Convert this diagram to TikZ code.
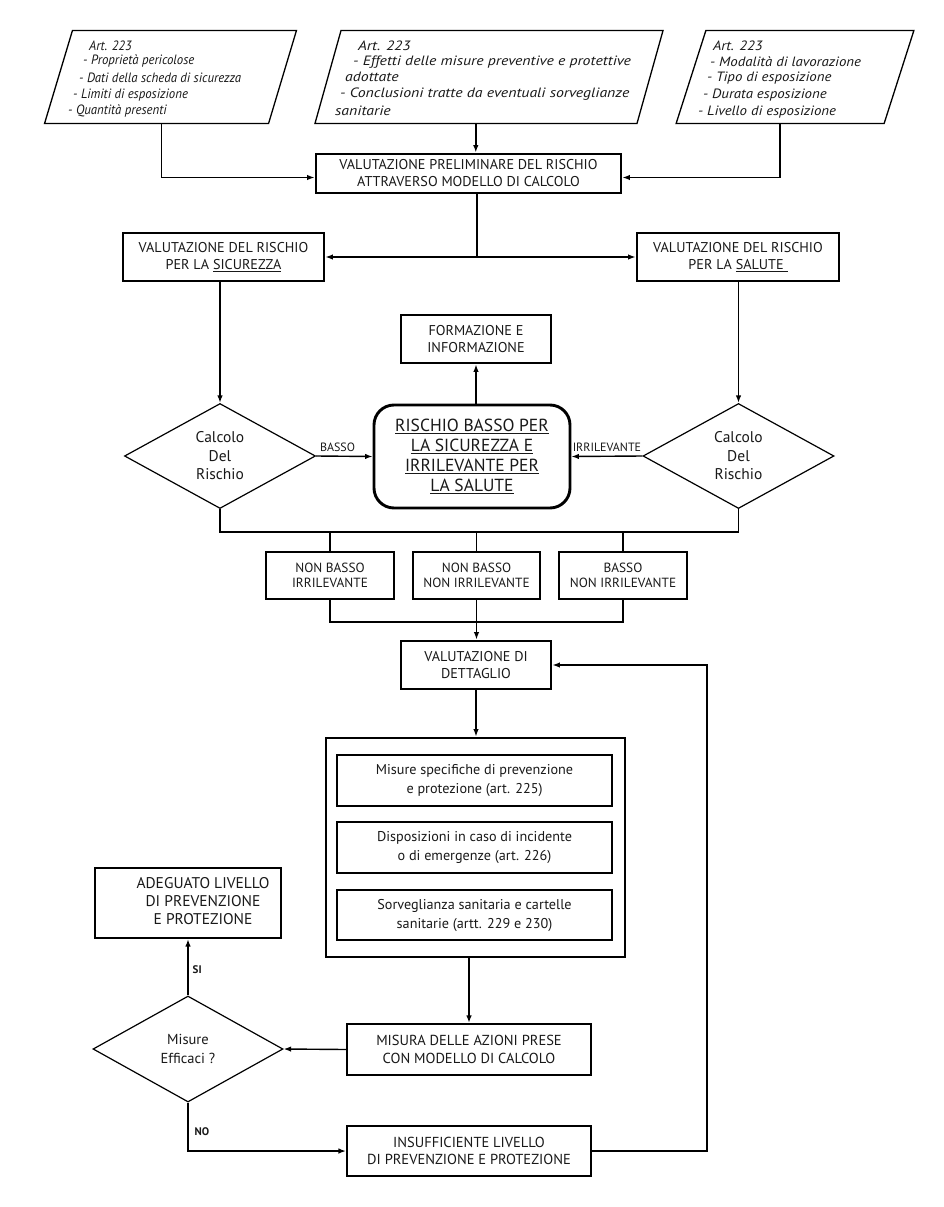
\documentclass[tikz,border=0pt]{standalone}
\usepackage{fontspec}
\setmainfont{PT Sans}
\newfontfamily\pfA[FakeStretch=0.95]{PT Sans}
\newfontfamily\pfB[FakeStretch=1.17]{PT Sans}
\newfontfamily\pfC[FakeStretch=1.1]{PT Sans}
\usetikzlibrary{shapes.geometric,arrows.meta,calc}
\begin{document}
\begin{tikzpicture}[x=1pt,y=-1pt,
 box/.style={draw,align=center,inner sep=0pt,text=black!90,font=\fontsize{14.2}{17}\selectfont},
 thk/.style={box,line width=2.9pt},
 mid/.style={box,line width=2.1pt},
 thn/.style={box,line width=1.1pt,font=\fontsize{14.2}{19}\selectfont},
 para/.style={draw,line width=1.3pt,inner sep=0pt,minimum height=93pt},
 ptxt/.style={anchor=west,inner sep=0pt,text=black!90},
 pA/.style={ptxt,font=\pfA\fontsize{13.5}{14}\selectfont\itshape},
 pB/.style={ptxt,font=\pfB\fontsize{13.5}{14}\selectfont\itshape},
 pC/.style={ptxt,font=\pfC\fontsize{13.5}{14}\selectfont\itshape},
 dia/.style={draw,diamond,line width=1.2pt,inner sep=0pt,align=center,font=\fontsize{15.5}{18.5}\selectfont,text=black!90},
 con/.style={line width=1.4pt},
 arr/.style={con,-{Latex[length=7.5pt,width=5.5pt]}},
 lbl/.style={inner sep=0pt,font=\fontsize{12}{12}\selectfont,text=black!90},
]
\useasboundingbox[fill=white] (0,0) rectangle (943,1207);

% parallelograms
\node[para,xslant=0.30,minimum width=224pt] (p1) at (170.5,77) {};
\node[para,xslant=0.28,minimum width=322pt] (p2) at (489,77) {};
\node[para,xslant=0.32,minimum width=208pt] (p3) at (795,77) {};

\node[pA] (t11) at (89,46) {Art. 223};
\node[pA] (t12) at (83,61) {- Proprietà pericolose};
\node[pA] (t13) at (79,78) {- Dati della scheda di sicurezza};
\node[pA] (t14) at (73,95) {- Limiti di esposizione};
\node[pA] (t15) at (68,111) {- Quantità presenti};

\node[pB] (t21) at (358,46) {Art. 223};
\node[pB] (t22) at (353,62) {- Effetti delle misure preventive e protettive};
\node[pB] (t23) at (345,77) {adottate};
\node[pB] (t24) at (340,94) {- Conclusioni tratte da eventuali sorveglianze};
\node[pB] (t25) at (335,111) {sanitarie};

\node[pC] (t31) at (713,46) {Art. 223};
\node[pC] (t32) at (710,62) {- Modalità di lavorazione};
\node[pC] (t33) at (707,78) {- Tipo di esposizione};
\node[pC] (t34) at (703,95) {- Durata esposizione};
\node[pC] (t35) at (698,112) {- Livello di esposizione};

% boxes
\node[thk,minimum width=305pt,minimum height=39pt] (prelim) at (468.5,173.5) {VALUTAZIONE PRELIMINARE DEL RISCHIO\\ATTRAVERSO MODELLO DI CALCOLO};
\node[thk,minimum width=201pt,minimum height=48pt] (sic) at (223.5,257) {VALUTAZIONE DEL RISCHIO\\PER LA \underline{SICUREZZA}};
\node[thk,minimum width=202pt,minimum height=48pt] (sal) at (738,257) {VALUTAZIONE DEL RISCHIO\\PER LA \underline{SALUTE~}};
\node[thk,minimum width=150pt,minimum height=48pt] (form) at (476,339) {FORMAZIONE E\\INFORMAZIONE};
\node[thk,rounded corners=20pt,minimum width=196pt,minimum height=103pt,font=\fontsize{17.5}{20}\selectfont] (rbox) at (472,456.5) {\underline{RISCHIO BASSO PER}\\\underline{LA SICUREZZA E}\\\underline{IRRILEVANTE PER}\\\underline{LA SALUTE}};
\node[dia,minimum width=191pt,minimum height=105pt] (d1) at (220,456) {Calcolo\\Del\\Rischio};
\node[dia,minimum width=191pt,minimum height=105pt] (d2) at (738.5,456) {Calcolo\\Del\\Rischio};

\node[mid,minimum width=128pt,minimum height=47pt,font=\fontsize{13.3}{15.5}\selectfont] (nb1) at (330,575.5) {NON BASSO\\IRRILEVANTE};
\node[mid,minimum width=127pt,minimum height=47pt,font=\fontsize{13.3}{15.5}\selectfont] (nb2) at (476.5,575.5) {NON BASSO\\NON IRRILEVANTE};
\node[mid,minimum width=128pt,minimum height=47pt,font=\fontsize{13.3}{15.5}\selectfont] (nb3) at (623,575.5) {BASSO\\NON IRRILEVANTE};

\node[thk,minimum width=150pt,minimum height=48pt] (det) at (476,665) {VALUTAZIONE DI\\DETTAGLIO};

\node[thk,minimum width=299pt,minimum height=219pt] (outer) at (475.5,847.5) {};
\node[thn,minimum width=275pt,minimum height=51pt] (in1) at (474.5,780.5) {Misure specifiche di prevenzione\\e protezione (art. 225)};
\node[thn,minimum width=275pt,minimum height=51pt] (in2) at (474.5,847.5) {Disposizioni in caso di incidente\\o di emergenze (art. 226)};
\node[thn,minimum width=275pt,minimum height=50pt] (in3) at (474.5,915) {Sorveglianza sanitaria e cartelle\\sanitarie (artt. 229 e 230)};

\node[mid,minimum width=186pt,minimum height=70pt] (ade) at (188,903) {};
\node[inner sep=0pt,align=center,text=black!90,font=\fontsize{15.5}{18}\selectfont] (adet) at (203,901) {ADEGUATO LIVELLO\\DI PREVENZIONE\\E PROTEZIONE};
\node[dia,minimum width=190pt,minimum height=106pt,font=\fontsize{14.5}{19}\selectfont] (dm) at (188,1049) {Misure\\Efficaci ?};
\node[mid,minimum width=244pt,minimum height=51pt,font=\fontsize{14.5}{17.5}\selectfont] (mis) at (469,1049.5) {MISURA DELLE AZIONI PRESE\\CON MODELLO DI CALCOLO};
\node[mid,minimum width=244pt,minimum height=50pt,font=\fontsize{14.5}{17.5}\selectfont] (ins) at (469,1151) {INSUFFICIENTE LIVELLO\\DI PREVENZIONE E PROTEZIONE};

% connectors
\draw[arr] ([xshift=5pt]p1.south) |- ([yshift=-4pt]prelim.west);
\draw[arr] (p2.south) -- (p2.south |- prelim.north);
\draw[arr] (p3.south) |- ([yshift=-4pt]prelim.east);
\coordinate (j1) at (477,257);
\draw[con] ([xshift=8.5pt]prelim.south) -- (j1);
\draw[con,{Latex[length=7.5pt,width=5.5pt]}-{Latex[length=7.5pt,width=5.5pt]}] (sic.east) -- (sal.west);
\draw[arr] (sic.south -| d1.north) -- (d1.north);
\draw[arr] (sal.south -| d2.north) -- (d2.north);
\draw[arr] (d1.east) -- (rbox.west) node[lbl,pos=0.38,above=4pt] (lb1) {BASSO};
\draw[arr] (d2.west) -- (rbox.east) node[lbl,pos=0.5,above=4pt] (lb2) {IRRILEVANTE};
\draw[arr] (rbox.north -| form.south) -- (form.south);

\coordinate (bus) at (477,532);
\draw[con] (d1.south) |- (bus) -| (d2.south);
\draw[con] (nb1.north |- bus) -- (nb1.north);
\draw[con] (nb2.north |- bus) -- (nb2.north);
\draw[con] (nb3.north |- bus) -- (nb3.north);
\coordinate (bus2) at (477,622);
\draw[con] (nb1.south) |- (bus2) -| (nb3.south);
\draw[arr] (nb2.south) -- (nb2.south |- det.north);
\draw[arr] (det.south) -- (det.south |- outer.north);
\draw[arr] (mis.north |- outer.south) -- (mis.north);
\draw[arr] (mis.west) -- (dm.east);
\draw[arr] (dm.north) -- (dm.north |- ade.south) node[lbl,pos=0.45,right=4pt,font=\fontsize{11}{12}\selectfont\bfseries] (si) {SI};
\draw[arr] (dm.south) |- (ins.west) node[lbl,pos=0.3,right=6pt,font=\fontsize{11}{12}\selectfont\bfseries] (no) {NO};
\coordinate (fb) at (707,900);
\draw[arr] (ins.east) -| (fb) |- (det.east);
\end{tikzpicture}
\end{document}
